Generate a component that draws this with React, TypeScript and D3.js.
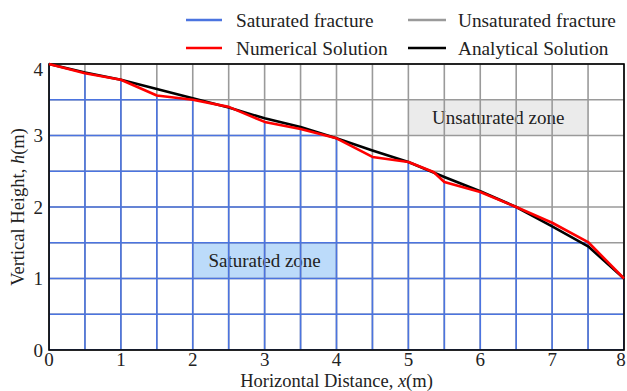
import React from "react";
import * as d3 from "d3";

// Numerical solution (water table profile), metres
const numX = [0, 0.5, 1, 1.5, 2, 2.5, 3, 3.5, 4, 4.5, 5, 5.35, 5.5, 6, 6.5, 7, 7.5, 8];
const numH = [4.0, 3.87, 3.78, 3.56, 3.5, 3.4, 3.19, 3.09, 2.96, 2.7, 2.63, 2.49, 2.35, 2.21, 2.0, 1.78, 1.51, 1.0];

// Analytical solution
const anaX = [0, 0.5, 1, 1.5, 2, 2.5, 3, 3.5, 4, 4.5, 5, 5.5, 6, 6.5, 7, 7.5, 8];
const anaH = [4.0, 3.88, 3.78, 3.65, 3.52, 3.39, 3.24, 3.12, 2.96, 2.79, 2.63, 2.42, 2.22, 2.0, 1.73, 1.45, 1.0];

// Fracture grid spacing and axis ticks
const gridX = d3.range(0, 8.001, 0.5);
const gridY = d3.range(0, 4.001, 0.5);
const xTicks = [0, 1, 2, 3, 4, 5, 6, 7, 8];
const yTicks = [0, 1, 2, 3, 4];

const W = 627;
const H = 391;
const M = { left: 49, right: 624, top: 64, bottom: 350 };

const BLUE = "#4b74e0";
const GRAY = "#9a9a9a";
const FONT = "'Liberation Serif', 'Times New Roman', serif";

export default function App() {
  const x = d3.scaleLinear().domain([0, 8]).range([M.left, M.right]);
  const y = d3.scaleLinear().domain([0, 4]).range([M.bottom, M.top]);

  const numPts: [number, number][] = numX.map((v, i) => [v, numH[i]]);
  const anaPts: [number, number][] = anaX.map((v, i) => [v, anaH[i]]);

  const line = d3
    .line<[number, number]>()
    .x((d) => x(d[0]))
    .y((d) => y(d[1]));

  const area = d3
    .area<[number, number]>()
    .x((d) => x(d[0]))
    .y0(y(0))
    .y1((d) => y(d[1]));

  const gridLines = (stroke: string) => (
    <g stroke={stroke} strokeWidth={1.6}>
      {gridX.map((v) => (
        <line key={"v" + v} x1={x(v)} x2={x(v)} y1={y(0)} y2={y(4)} />
      ))}
      {gridY.map((v) => (
        <line key={"h" + v} x1={x(0)} x2={x(8)} y1={y(v)} y2={y(v)} />
      ))}
    </g>
  );

  return (
    <svg
      width={W}
      height={H}
      style={{ position: "absolute", left: 0, top: 0, background: "#fff" }}
      fontFamily={FONT}
    >
      <defs>
        <clipPath id="saturated">
          <path d={area(numPts) || ""} />
        </clipPath>
      </defs>

      {/* zone labels */}
      <rect x={x(5)} y={y(3.5)} width={x(7.5) - x(5)} height={y(3) - y(3.5)} fill="#ebebeb" />
      <text x={(x(5) + x(7.5)) / 2} y={(y(3.5) + y(3)) / 2} dy="0.35em" textAnchor="middle" fontSize={19} fill="#222">
        Unsaturated zone
      </text>
      <rect x={x(2)} y={y(1.5)} width={x(4) - x(2)} height={y(1) - y(1.5)} fill="#bcdbfa" />
      <text x={(x(2) + x(4)) / 2} y={(y(1.5) + y(1)) / 2} dy="0.35em" textAnchor="middle" fontSize={19} fill="#222">
        Saturated zone
      </text>

      {/* fracture network: unsaturated everywhere, saturated below the water table */}
      {gridLines(GRAY)}
      <g clipPath="url(#saturated)">{gridLines(BLUE)}</g>

      {/* frame */}
      <rect x={M.left} y={M.top} width={M.right - M.left} height={M.bottom - M.top} fill="none" stroke="#000" strokeWidth={1.6} />

      {/* solutions */}
      <path d={line(anaPts) || ""} fill="none" stroke="#000" strokeWidth={2.6} strokeLinejoin="round" />
      <path d={line(numPts) || ""} fill="none" stroke="#ff0000" strokeWidth={2.6} strokeLinejoin="round" />

      {/* tick labels */}
      {xTicks.map((t) => (
        <text key={"xt" + t} x={Math.min(x(t), W - 6)} y={366} textAnchor="middle" fontSize={19} fill="#222">
          {t}
        </text>
      ))}
      {yTicks.map((t) => (
        <text key={"yt" + t} x={43} y={Math.max(y(t), 69)} dy="0.35em" textAnchor="end" fontSize={19} fill="#222">
          {t}
        </text>
      ))}

      {/* axis titles */}
      <text x={(M.left + M.right) / 2} y={387} textAnchor="middle" fontSize={18.5} fill="#222">
        Horizontal Distance, <tspan fontStyle="italic">x</tspan>(m)
      </text>
      <text transform={`translate(24, ${(M.top + M.bottom) / 2}) rotate(-90)`} textAnchor="middle" fontSize={18.5} fill="#222">
        Vertical Height, <tspan fontStyle="italic">h</tspan>(m)
      </text>

      {/* legend */}
      <g fontSize={19.3} fill="#222">
        <line x1={186} x2={222} y1={20} y2={20} stroke={BLUE} strokeWidth={2.5} />
        <text x={236} y={20} dy="0.35em">Saturated fracture</text>
        <line x1={408} x2={446} y1={20} y2={20} stroke={GRAY} strokeWidth={2.5} />
        <text x={458} y={20} dy="0.35em">Unsaturated fracture</text>
        <line x1={186} x2={222} y1={48} y2={48} stroke="#ff0000" strokeWidth={2.5} />
        <text x={236} y={48} dy="0.35em">Numerical Solution</text>
        <line x1={408} x2={446} y1={48} y2={48} stroke="#000" strokeWidth={2.5} />
        <text x={458} y={48} dy="0.35em">Analytical Solution</text>
      </g>
    </svg>
  );
}
